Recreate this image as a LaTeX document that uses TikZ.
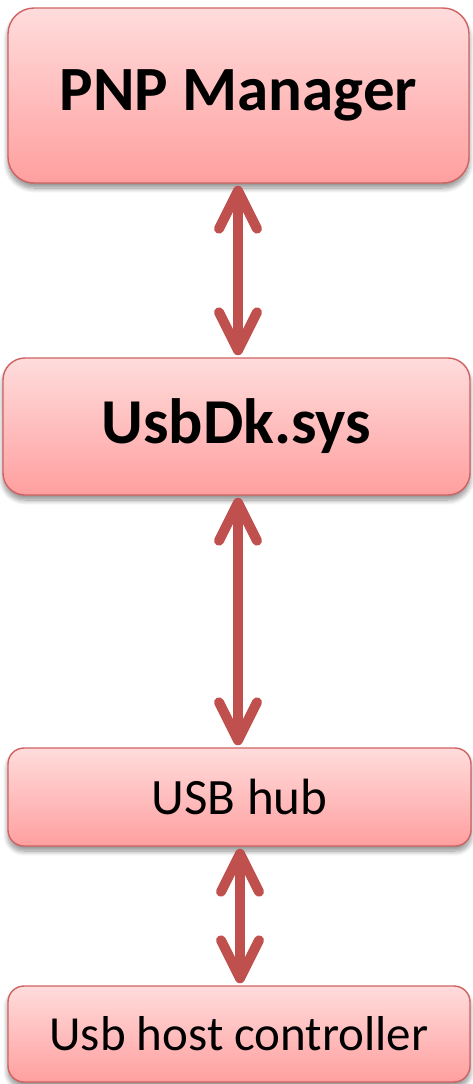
\documentclass[tikz,border=0pt]{standalone}
\usepackage{fontspec}
\setmainfont{Carlito}
\usetikzlibrary{arrows.meta,shadows.blur}
\definecolor{boxtop}{HTML}{FFDCDC}
\definecolor{boxbot}{HTML}{FF9F9F}
\definecolor{boxline}{HTML}{CF6262}
\definecolor{link}{HTML}{C0504D}
\tikzset{
  layer/.style={rounded corners=#1, draw=boxline, line width=1.4pt,
    top color=boxtop, bottom color=boxbot, text=black, inner sep=0pt,
    blur shadow={shadow xshift=0pt, shadow yshift=-5pt, shadow blur radius=5pt,
      shadow blur steps=10, shadow opacity=45}},
  chev/.tip={Straight Barb[length=38pt, width=38pt, round]},
  link/.style={draw=link, line width=10pt, chev-chev}
}
\begin{document}
\begin{tikzpicture}[x=1pt, y=-1pt]
  \useasboundingbox (0,0) rectangle (472,1084);
  % driver stack, top to bottom
  \node[layer=26pt, minimum width=461pt, minimum height=175pt,
        font=\fontsize{63}{68}\selectfont\bfseries] (pnp) at (238.5,95.5) {PNP Manager};
  \node[layer=22pt, minimum width=467pt, minimum height=137pt,
        font=\fontsize{64}{68}\selectfont\bfseries] (usbdk) at (236.5,426.5) {UsbDk.sys};
  \node[layer=16pt, minimum width=463pt, minimum height=98pt,
        font=\fontsize{51}{56}\selectfont] (hub) at (239.5,797) {USB hub};
  \node[layer=16pt, minimum width=462pt, minimum height=96pt,
        font=\fontsize{49}{54}\selectfont] (hc) at (239,1034) {Usb host controller};
  % bidirectional links between layers
  \draw[link] ([xshift=-0.5pt,yshift=-2pt]pnp.south) -- ([xshift=1.5pt,yshift=2pt]usbdk.north);
  \draw[link] ([xshift=1.5pt,yshift=-2pt]usbdk.south) -- ([xshift=-1.5pt,yshift=2pt]hub.north);
  \draw[link] ([xshift=0.5pt,yshift=-2pt]hub.south) -- ([xshift=1pt,yshift=2pt]hc.north);
\end{tikzpicture}
\end{document}
